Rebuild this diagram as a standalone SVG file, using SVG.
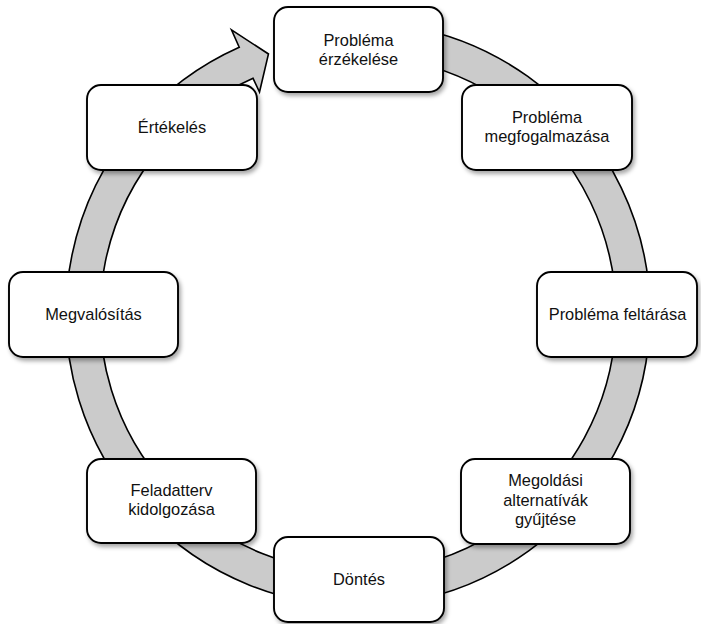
<svg xmlns="http://www.w3.org/2000/svg" width="701" height="624" viewBox="0 0 701 624">
<style>
.box{fill:#fff;stroke:#000;stroke-width:1.9;filter:url(#sh)}
.ring{fill:#cbcbcb;stroke:#000;stroke-width:1.6;stroke-linejoin:miter}
text{font-family:"Liberation Sans",Arial,sans-serif;font-size:16.4px;fill:#111;text-anchor:middle}
</style>
<defs>
<filter id="sh" x="-10%" y="-10%" width="125%" height="130%">
<feDropShadow dx="2" dy="3" stdDeviation="2" flood-color="#000" flood-opacity="0.35"/>
</filter>
</defs>
<g id="connectors">
<path class="ring" d="M408.71,26.44 A292,292 0 1 1 239.23,47.24 L231.5,29.89 L268.47,53.98 L259.5,92 L253.06,78.3 A258,258 0 1 0 402.8,59.92 Z"/>
</g>
<g id="n1"><rect class="box" x="274" y="7" width="169" height="85" rx="14"/><text x="358.5" y="45.5">Probléma</text><text x="358.5" y="64.5">érzékelése</text></g>
<g id="n2"><rect class="box" x="462" y="85" width="170" height="85" rx="14"/><text x="547" y="123">Probléma</text><text x="547" y="142">megfogalmazása</text></g>
<g id="n3"><rect class="box" x="537" y="272" width="160" height="85" rx="14"/><text x="617.5" y="320">Probléma feltárása</text></g>
<g id="n4"><rect class="box" x="461" y="459" width="169" height="85" rx="14"/><text x="545.5" y="486">Megoldási</text><text x="545.5" y="505.5">alternatívák</text><text x="545.5" y="525">gyűjtése</text></g>
<g id="n5"><rect class="box" x="274" y="537" width="170" height="85" rx="14"/><text x="359" y="585">Döntés</text></g>
<g id="n6"><rect class="box" x="87" y="459" width="169" height="84" rx="14"/><text x="171.5" y="496">Feladatterv</text><text x="171.5" y="515">kidolgozása</text></g>
<g id="n7"><rect class="box" x="9" y="272" width="169" height="85" rx="14"/><text x="93.5" y="320">Megvalósítás</text></g>
<g id="n8"><rect class="box" x="87" y="85" width="170" height="85" rx="14"/><text x="172" y="133">Értékelés</text></g>
</svg>
